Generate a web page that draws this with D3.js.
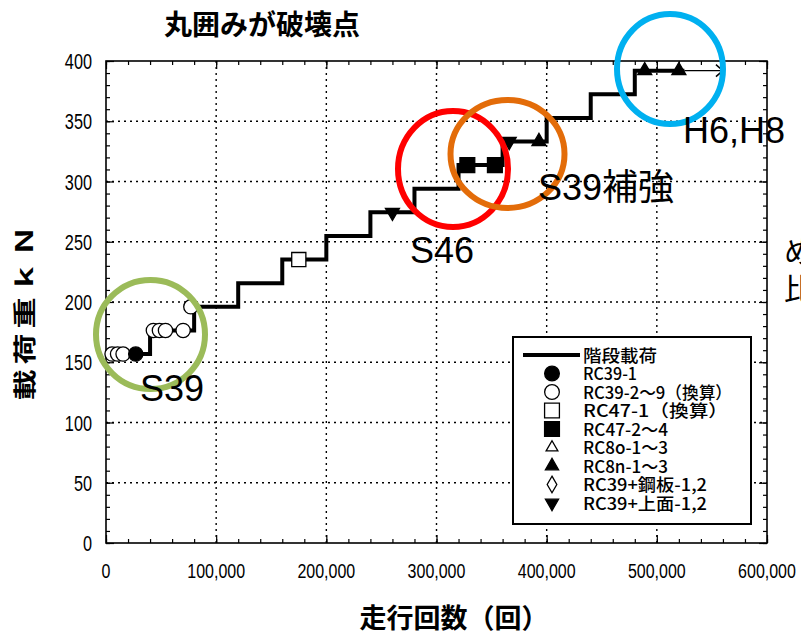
<!DOCTYPE html>
<html><head><meta charset="utf-8">
<script src="https://cdn.jsdelivr.net/npm/d3@7"></script>
<style>
html,body{margin:0;padding:0;background:#fff;}
svg{display:block;}
</style></head>
<body>
<svg id="chart" width="801" height="636"></svg>
<script>
// ---- data ----
const stepCycles = [0, 40000, 80000, 120000, 160000, 200000, 240000, 280000, 320000, 360000, 400000, 440000, 480000, 525000];
const stepLoads  = [156.8, 176.4, 196.0, 215.6, 235.2, 254.8, 274.4, 294.0, 313.6, 333.2, 352.8, 372.4, 392.0, 392.0];
const arrowCycles = [525000, 560000];
const arrowLoads = [392.0, 392.0];

const rc39_1 = [[27000, 156.8]];
const rc39_2to9 = [[5500, 156.8], [10500, 156.8], [15500, 156.8], [43000, 176.4], [48500, 176.4], [54000, 176.4], [70000, 176.4], [77000, 196.0]];
const rc47_1 = [[175000, 235.2]];
const rc47_2to4 = [[328000, 313.6], [353000, 313.6]];
const rc8o = [];
const rc8n = [[393000, 333.2], [489000, 392.0], [520000, 392.0]];
const rc39_steel = [];
const rc39_top = [[260000, 274.4], [366000, 333.2]];

const xTicks = [0, 100000, 200000, 300000, 400000, 500000, 600000];
const xTickLabels = ["0", "100,000", "200,000", "300,000", "400,000", "500,000", "600,000"];
const yTicks = [0, 50, 100, 150, 200, 250, 300, 350, 400];

const legendLabels = ["階段載荷", "RC39-1", "RC39-2～9（換算）", "RC47-1（換算）", "RC47-2～4", "RC8o-1～3", "RC8n-1～3", "RC39+鋼板-1,2", "RC39+上面-1,2"];
const legendWidths = [74, 54, 149, 145, 85, 85, 85, 124, 124];

const title = "丸囲みが破壊点";
const xTitle = "走行回数（回）";
const yTitle = "載荷重ｋＮ";

const notes = [
  {label: "S39",    cx: 150.5, cy: 334.5, rx: 54.5, ry: 54.5, color: "#9BBB59", tx: 140, ty: 401},
  {label: "S46",    cx: 453,   cy: 169,   rx: 55,   ry: 58,   color: "#FF0000", tx: 410, ty: 263},
  {label: "S39補強", cx: 507.5, cy: 154,   rx: 57,   ry: 54,   color: "#E36C09", tx: 538, ty: 200},
  {label: "H6,H8",  cx: 670,   cy: 69,    rx: 53,   ry: 55,   color: "#00B0F0", tx: 683, ty: 143}
];

// ---- chart ----
const svg = d3.select("#chart");
const x = d3.scaleLinear().domain([0, 600000]).range([106, 767]);
const y = d3.scaleLinear().domain([0, 400]).range([543, 61]);
const sansJP = "'Noto Sans CJK JP','Noto Sans',sans-serif";
const arial = "'Liberation Sans',Arial,sans-serif";

// grid
const grid = svg.append("g").attr("stroke", "#000").attr("stroke-width", 1.4).attr("stroke-dasharray", "2,4");
yTicks.filter(d => d > 0 && d < 400).forEach(v => {
  grid.append("line").attr("x1", x(0)).attr("x2", x(600000)).attr("y1", y(v)).attr("y2", y(v));
});
xTicks.filter(d => d > 0 && d < 600000).forEach(v => {
  grid.append("line").attr("x1", x(v)).attr("x2", x(v)).attr("y1", y(0)).attr("y2", y(400));
});

// axes with inward ticks
function axisG(axis, tx, ty) {
  const g = svg.append("g").attr("transform", `translate(${tx},${ty})`).call(axis);
  g.select(".domain").remove();
  g.selectAll("text").remove();
  g.selectAll("line").attr("stroke", "#000").attr("stroke-width", 1.2);
  return g;
}
const xMinor = d3.range(0, 600001, 20000);
const yMinor = d3.range(0, 401, 10);
axisG(d3.axisBottom(x).tickValues(xMinor).tickSize(-4), 0, y(0));
axisG(d3.axisBottom(x).tickValues(xTicks).tickSize(-8), 0, y(0));
axisG(d3.axisTop(x).tickValues(xMinor).tickSize(-4), 0, y(400));
axisG(d3.axisTop(x).tickValues(xTicks).tickSize(-8), 0, y(400));
axisG(d3.axisLeft(y).tickValues(yMinor).tickSize(-4), x(0), 0);
axisG(d3.axisLeft(y).tickValues(yTicks).tickSize(-8), x(0), 0);
axisG(d3.axisRight(y).tickValues(yMinor).tickSize(-4), x(600000), 0);
axisG(d3.axisRight(y).tickValues(yTicks).tickSize(-8), x(600000), 0);

svg.append("rect").attr("x", x(0)).attr("y", y(400)).attr("width", x(600000) - x(0)).attr("height", y(0) - y(400))
  .attr("fill", "none").attr("stroke", "#000").attr("stroke-width", 1.6);

// tick labels (condensed look)
yTicks.forEach(v => {
  svg.append("text").attr("transform", `translate(92,${y(v) + 8}) scale(0.74,1)`)
    .attr("text-anchor", "end").attr("font-family", arial).attr("font-size", 22).attr("fill", "#000").text(v);
});
xTicks.forEach((v, i) => {
  svg.append("text").attr("transform", `translate(${x(v)},${578}) scale(0.8,1)`)
    .attr("text-anchor", "middle").attr("font-family", arial).attr("font-size", 20).attr("fill", "#000").text(xTickLabels[i]);
});

// step load line
const line = d3.line().x(d => x(d[0])).y(d => y(d[1])).curve(d3.curveStepAfter);
svg.append("path").datum(stepCycles.map((c, i) => [c, stepLoads[i]]))
  .attr("d", line).attr("fill", "none").attr("stroke", "#000").attr("stroke-width", 4).attr("stroke-linejoin", "miter");
const lin = d3.line().x(d => x(d[0])).y(d => y(d[1]));
svg.append("path").datum(arrowCycles.map((c, i) => [c, arrowLoads[i]]))
  .attr("d", lin).attr("fill", "none").attr("stroke", "#000").attr("stroke-width", 1.3);
{
  const ax = x(arrowCycles[1]), ay = y(arrowLoads[1]);
  svg.append("path").attr("d", `M${ax - 7},${ay - 6} L${ax},${ay} L${ax - 7},${ay + 6}`)
    .attr("fill", "none").attr("stroke", "#000").attr("stroke-width", 1.5);
}

// markers
function drawMarkers(data, type, size, fill, rot) {
  svg.append("g").selectAll("path").data(data).join("path")
    .attr("transform", d => `translate(${x(d[0])},${y(d[1])})${rot ? " rotate(180)" : ""}`)
    .attr("d", d3.symbol().type(type).size(size)())
    .attr("fill", fill).attr("stroke", "#000").attr("stroke-width", 1.3);
}
drawMarkers(rc39_2to9, d3.symbolCircle, 160, "#fff");
drawMarkers(rc39_1, d3.symbolCircle, 160, "#000");
drawMarkers(rc47_1, d3.symbolSquare, 200, "#fff");
drawMarkers(rc47_2to4, d3.symbolSquare, 220, "#000");
drawMarkers(rc8o, d3.symbolTriangle, 75, "#fff");
drawMarkers(rc8n, d3.symbolTriangle, 85, "#000");
drawMarkers(rc39_steel, d3.symbolDiamond, 90, "#fff");
drawMarkers(rc39_top, d3.symbolTriangle, 85, "#000", true);

// legend
const lg = svg.append("g");
lg.append("rect").attr("x", 513).attr("y", 337).attr("width", 238).attr("height", 187)
  .attr("fill", "#fff").attr("stroke", "#000").attr("stroke-width", 2);
const rowY = i => 355 + i * 18.5;
lg.append("line").attr("x1", 523).attr("x2", 580).attr("y1", rowY(0)).attr("y2", rowY(0)).attr("stroke", "#000").attr("stroke-width", 4);
const legSyms = [null,
  [d3.symbolCircle, 170, "#000", false],
  [d3.symbolCircle, 170, "#fff", false],
  [d3.symbolSquare, 220, "#fff", false],
  [d3.symbolSquare, 220, "#000", false],
  [d3.symbolTriangle, 60, "#fff", false],
  [d3.symbolTriangle, 75, "#000", false],
  [d3.symbolDiamond, 80, "#fff", false],
  [d3.symbolTriangle, 75, "#000", true]];
legendLabels.forEach((t, i) => {
  const s = legSyms[i];
  if (s) {
    lg.append("path").attr("transform", `translate(552,${rowY(i)})${s[3] ? " rotate(180)" : ""}`)
      .attr("d", d3.symbol().type(s[0]).size(s[1])()).attr("fill", s[2]).attr("stroke", "#000").attr("stroke-width", 1.3);
  }
  lg.append("text").attr("x", 583).attr("y", rowY(i) + 6.5)
    .attr("font-family", "'Noto Sans CJK JP','Liberation Sans',sans-serif").attr("font-size", 17).attr("font-weight", 500)
    .attr("textLength", legendWidths[i]).attr("lengthAdjust", "spacingAndGlyphs")
    .attr("fill", "#000").text(t);
});

// titles
svg.append("text").attr("x", 262).attr("y", 35).attr("text-anchor", "middle")
  .attr("font-family", sansJP).attr("font-weight", "bold").attr("font-size", 28).attr("fill", "#000").text(title);
svg.append("text").attr("x", 454).attr("y", 628).attr("text-anchor", "middle")
  .attr("font-family", sansJP).attr("font-weight", "bold").attr("font-size", 27).attr("fill", "#000").text(xTitle);
svg.append("text").attr("transform", "translate(33,313) scale(0.75,1) rotate(-90)").attr("text-anchor", "middle")
  .attr("font-family", sansJP).attr("font-weight", "bold").attr("font-size", 31)
  .attr("textLength", 175).attr("lengthAdjust", "spacing").attr("fill", "#000").text(yTitle);

// annotation circles & labels
notes.forEach(n => {
  svg.append("ellipse").attr("cx", n.cx).attr("cy", n.cy).attr("rx", n.rx).attr("ry", n.ry)
    .attr("fill", "none").attr("stroke", n.color).attr("stroke-width", 6);
});
notes.forEach(n => {
  svg.append("text").attr("x", n.tx).attr("y", n.ty).attr("font-family", "'Liberation Sans','Noto Sans CJK JP',sans-serif")
    .attr("font-size", 36).attr("fill", "#000").text(n.label);
});

// clipped text at right edge
svg.append("text").attr("x", 784).attr("y", 262).attr("font-family", sansJP).attr("font-size", 30).attr("fill", "#000").text("め");
svg.append("text").attr("x", 784).attr("y", 300).attr("font-family", sansJP).attr("font-size", 30).attr("fill", "#000").text("比");
</script>
</body></html>
